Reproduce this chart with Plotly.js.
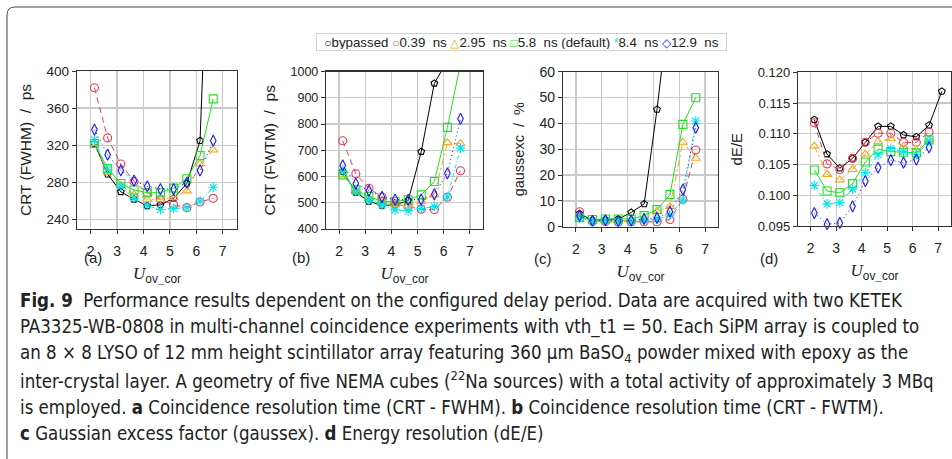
<!DOCTYPE html>
<html><head><meta charset="utf-8">
<script src="https://cdn.plot.ly/plotly-3.0.1.min.js"></script>
<style>html,body{margin:0;padding:0;background:#fff;}#chart{width:952px;height:459px;}</style>
</head><body><div id="chart"></div>
<script>
// ---------- data ----------
const seriesNames = ["bypassed", "0.39 ns", "2.95 ns", "5.8 ns (default)", "8.4 ns", "12.9 ns"];
const uov = [2.14, 2.64, 3.14, 3.64, 4.14, 4.64, 5.14, 5.64, 6.14, 6.64];
const uovLong = [2.14, 2.64, 3.14, 3.64, 4.14, 4.64, 5.14, 5.64, 6.14, 6.64, 7.14];
const xTicks = [2, 3, 4, 5, 6, 7];
const fwhmTicks = [240, 280, 320, 360, 400];
const fwtmTicks = [400, 500, 600, 700, 800, 900, 1000];
const gaussTicks = [0, 10, 20, 30, 40, 50, 60];
const dETicks = [0.095, 0.100, 0.105, 0.110, 0.115, 0.120];

// (a) CRT FWHM / ps
const fwhmBypassed = [322, 289, 270, 262, 255, 256, 263, 279, 325, 700];
const fwhm039 = [382, 328, 300, 281, 269, 262, 256, 253, 259, 263];
const fwhm295 = [322, 291, 277, 267, 262, 262, 264, 271, 300, 315];
const fwhm58 = [322, 295, 279, 272, 269, 269, 274, 284, 309, 370];
const fwhm84 = [326, 294, 276, 263, 255, 251, 252, 253, 260, 275];
const fwhm129 = [337, 310, 293, 282, 276, 273, 273, 280, 293, 325];

// (b) CRT FWTM / ps
const fwtmBypassed = [619, 540, 505, 490, 492, 508, 695, 955, 1040];
const fwtm039 = [736, 610, 555, 522, 496, 485, 475, 474, 521, 622];
const fwtm295 = [606, 545, 517, 504, 492, 488, 505, 530, 729, 725];
const fwtm58 = [606, 549, 524, 505, 505, 511, 530, 581, 787, 1030];
const fwtm84 = [619, 543, 511, 492, 473, 469, 478, 486, 522, 708];
const fwtm129 = [642, 573, 546, 522, 512, 511, 512, 532, 612, 820];

// (c) gaussexc / %
const gaussBypassed = [5.0, 2.6, 2.8, 3.0, 5.5, 8.8, 45.4, 88];
const gauss039 = [5.8, 2.0, 2.0, 1.7, 1.9, 1.9, 1.9, 2.8, 10.6, 29.7];
const gauss295 = [4.0, 2.2, 2.3, 2.2, 2.5, 3.0, 6.0, 7.8, 32.7, 26.5];
const gauss58 = [3.5, 2.8, 3.0, 3.0, 3.0, 4.3, 6.6, 12.4, 39.6, 49.9];
const gauss84 = [3.5, 2.0, 2.2, 2.0, 2.0, 2.5, 2.8, 4.5, 10.4, 40.9];
const gauss129 = [4.2, 2.3, 2.5, 2.2, 2.4, 3.0, 3.4, 5.8, 14.4, 38.3];

// (d) dE/E
const dEBypassed = [0.1123, 0.1067, 0.1044, 0.1060, 0.1086, 0.1112, 0.1112, 0.1098, 0.1095, 0.1114, 0.1169];
const dE039 = [0.1118, 0.1051, 0.1042, 0.1060, 0.1086, 0.1101, 0.1101, 0.1086, 0.1086, 0.1103];
const dE295 = [0.1080, 0.1034, 0.1025, 0.1042, 0.1067, 0.1087, 0.1092, 0.1079, 0.1074, 0.1090];
const dE58 = [0.1041, 0.1007, 0.1004, 0.1019, 0.1054, 0.1075, 0.1071, 0.1070, 0.1069, 0.1090];
const dE84 = [0.1016, 0.0986, 0.0988, 0.1010, 0.1037, 0.1066, 0.1076, 0.1071, 0.1066, 0.1088];
const dE129 = [0.0971, 0.0953, 0.0955, 0.0982, 0.1023, 0.1045, 0.1057, 0.1053, 0.1058, 0.1078];

const captionLines = [
  "<b>Fig. 9</b>\u00a0 Performance results dependent on the configured delay period. Data are acquired with two KETEK",
  "PA3325-WB-0808 in multi-channel coincidence experiments with vth_t1 = 50. Each SiPM array is coupled to",
  "an 8 × 8 LYSO of 12 mm height scintillator array featuring 360 μm BaSO<sub>4</sub> powder mixed with epoxy as the",
  "inter-crystal layer. A geometry of five NEMA cubes (<sup>22</sup>Na sources) with a total activity of approximately 3 MBq",
  "is employed. <b>a</b> Coincidence resolution time (CRT - FWHM). <b>b</b> Coincidence resolution time (CRT - FWTM).",
  "<b>c</b> Gaussian excess factor (gaussex). <b>d</b> Energy resolution (dE/E)"
];

// ---------- styles ----------
const W = 952, H = 459;
const FONT = "'Liberation Sans', Arial, sans-serif";
const CAPFONT = "'Liberation Sans Narrow', 'DejaVu Sans Condensed', 'Liberation Sans', sans-serif";
const styles = [
  {color: '#000000', symbol: 'pentagon-open', dash: 'solid', size: 7},
  {color: '#e8384f', symbol: 'circle-open', dash: '6px,4px', size: 8},
  {color: '#f5a623', symbol: 'triangle-up-open', dash: '7px,3px,2px,3px', size: 8},
  {color: '#22e022', symbol: 'square-open', dash: 'solid', size: 8},
  {color: '#00e5ee', symbol: 'asterisk-open', dash: '4px,2px,1px,2px', size: 8},
  {color: '#1a1aff', symbol: 'diamond-tall-open', dash: '1px,3px', size: 8}
];
const px = v => v / W;
const py = v => 1 - v / H;

const panels = [
  {xa: 'x', ya: 'y', clip: true, xs: [uov, uov, uov, uov, uov, uov],
   ys: [fwhmBypassed, fwhm039, fwhm295, fwhm58, fwhm84, fwhm129]},
  {xa: 'x2', ya: 'y2', clip: true, xs: [uov, uov, uov, uov, uov, uov],
   ys: [fwtmBypassed, fwtm039, fwtm295, fwtm58, fwtm84, fwtm129]},
  {xa: 'x3', ya: 'y3', clip: true, xs: [uov, uov, uov, uov, uov, uov],
   ys: [gaussBypassed, gauss039, gauss295, gauss58, gauss84, gauss129]},
  {xa: 'x4', ya: 'y4', clip: false, xs: [uovLong, uov, uov, uov, uov, uov],
   ys: [dEBypassed, dE039, dE295, dE58, dE84, dE129]}
];

const traces = [];
panels.forEach(p => {
  p.ys.forEach((yv, i) => {
    const s = styles[i];
    traces.push({
      type: 'scatter', mode: 'lines+markers', name: seriesNames[i], showlegend: false,
      x: p.xs[i].slice(0, yv.length), y: yv, xaxis: p.xa, yaxis: p.ya, cliponaxis: p.clip,
      line: {color: s.color, width: 1, dash: s.dash},
      marker: {symbol: s.symbol, size: s.size, color: s.color, line: {color: s.color, width: 1.1}}
    });
  });
});

function axis(domain, range, tickvals, fs, extra) {
  return Object.assign({
    domain: domain, range: range, tickmode: 'array', tickvals: tickvals,
    showgrid: true, gridcolor: '#c9c9c9', gridwidth: 1.4, zeroline: false,
    showline: true, linecolor: '#333', linewidth: 1.2, mirror: true,
    ticks: 'outside', ticklen: 4, tickwidth: 1, tickcolor: '#333',
    tickfont: {family: FONT, size: fs, color: '#222'}
  }, extra);
}
const xTitle = {text: "<i>U</i><span style='font-family:Liberation Sans'><sub>ov<b>_</b>cor</sub></span>",
  font: {family: "'Liberation Serif', serif", size: 17, color: '#222'}, standoff: 9};
function yTitle(t, s) { return {text: t, font: {family: FONT, size: s, color: '#222'}, standoff: 11}; }

const dom = {
  a: {x: [px(77), px(237)], y: [py(229), py(71)]},
  b: {x: [px(326), px(483)], y: [py(229), py(71.5)]},
  c: {x: [px(563), px(718)], y: [py(226.7), py(71.7)]},
  d: {x: [px(798), px(951)], y: [py(226), py(72.3)]}
};
const xExtra = {ticklabelstandoff: 5};

// caption font size fitted to the first line's width
const cv = document.createElement('canvas').getContext('2d');
cv.font = "16px " + CAPFONT;
const l1 = captionLines[0].replace(/<[^>]+>/g, '');
const capSize = Math.min(21, 16 * 875 / cv.measureText(l1).width);

const annotations = [];
const capY = [300, 327, 353.5, 380, 407, 433.5];
captionLines.forEach((t, i) => annotations.push({
  xref: 'paper', yref: 'paper', x: px(18), y: py(capY[i]), xanchor: 'left', yanchor: 'middle',
  showarrow: false, text: t, font: {family: CAPFONT, size: capSize, color: '#222'}
}));
[['(a)', 93, 257], ['(b)', 301, 257], ['(c)', 543, 258], ['(d)', 769, 258]].forEach(l => annotations.push({
  xref: 'paper', yref: 'paper', x: px(l[1]), y: py(l[2]), xanchor: 'center', yanchor: 'middle',
  showarrow: false, text: l[0], font: {family: FONT, size: 15, color: '#222'}
}));
const legSym = ['○', '○', '△', '□', '*', '◇'];
const legText = seriesNames.map((n, i) =>
  "<span style='color:" + styles[i].color + ";font-size:12px'>" + legSym[i] + "</span>" + n.replace(' ns', '\u00a0 ns')
).join(' ');
annotations.push({
  xref: 'paper', yref: 'paper', x: px(521.5), y: py(41.5), xanchor: 'center', yanchor: 'middle',
  showarrow: false, text: legText, font: {family: FONT, size: 13.3, color: '#222'},
  bordercolor: '#d0d0d0', borderwidth: 1, borderpad: 1, bgcolor: '#fff', width: 407, height: 14
});

const layout = {
  width: W, height: H, margin: {l: 0, r: 0, t: 0, b: 0},
  paper_bgcolor: '#fff', plot_bgcolor: '#fff', showlegend: false,
  font: {family: FONT, color: '#222'},
  xaxis: axis(dom.a.x, [1.48, 7.54], xTicks, 14, Object.assign({anchor: 'y', title: xTitle}, xExtra)),
  yaxis: axis(dom.a.y, [230, 400], fwhmTicks, 13.5, {anchor: 'x', title: yTitle('CRT (FWHM)\u00a0 /\u00a0 ps', 15.5)}),
  xaxis2: axis(dom.b.x, [1.5, 7.5], xTicks, 14, Object.assign({anchor: 'y2', title: xTitle}, xExtra)),
  yaxis2: axis(dom.b.y, [400, 1000], fwtmTicks, 12.5, {anchor: 'x2', title: yTitle('CRT (FWTM)\u00a0 /\u00a0 ps', 15.5)}),
  xaxis3: axis(dom.c.x, [1.5, 7.5], xTicks, 14, Object.assign({anchor: 'y3', title: xTitle}, xExtra)),
  yaxis3: axis(dom.c.y, [0, 60], gaussTicks, 14, {anchor: 'x3', title: yTitle('gaussexc\u00a0 /\u00a0 %', 14.5)}),
  xaxis4: axis(dom.d.x, [1.5, 7.5], xTicks, 14, Object.assign({anchor: 'y4', title: xTitle}, xExtra)),
  yaxis4: axis(dom.d.y, [0.095, 0.120], dETicks, 13, {anchor: 'x4', tickformat: '.3f', title: yTitle('dE/E', 15)}),
  annotations: annotations,
  shapes: [{type: 'path', xref: 'paper', yref: 'paper',
    path: 'M 1 ' + py(7) + ' L ' + px(15) + ' ' + py(7) + ' Q ' + px(7) + ' ' + py(7) + ' ' + px(7) + ' ' + py(15) + ' L ' + px(7) + ' 0',
    line: {color: '#444', width: 1}}]
};

Plotly.newPlot('chart', traces, layout, {staticPlot: true, displayModeBar: false});
</script></body></html>
